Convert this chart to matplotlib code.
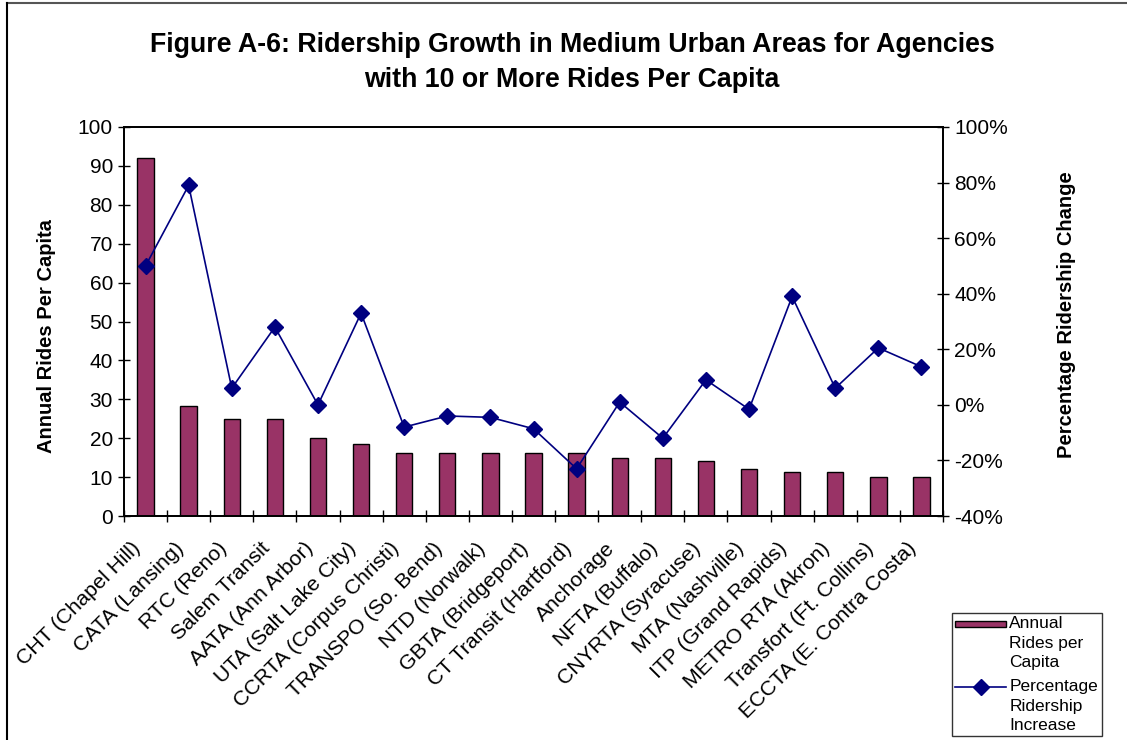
import numpy as np
import matplotlib
matplotlib.use('agg')
import matplotlib.pyplot as plt
from matplotlib.lines import Line2D
from matplotlib.patches import Rectangle
from matplotlib.legend_handler import HandlerBase
from matplotlib.ticker import FuncFormatter
from matplotlib.transforms import ScaledTranslation

plt.rcParams['font.family'] = ['Liberation Sans', 'DejaVu Sans']

agencies = ["CHT (Chapel Hill)", "CATA (Lansing)", "RTC (Reno)", "Salem Transit",
            "AATA (Ann Arbor)", "UTA (Salt Lake City)", "CCRTA (Corpus Christi)",
            "TRANSPO (So. Bend)", "NTD (Norwalk)", "GBTA (Bridgeport)",
            "CT Transit (Hartford)", "Anchorage", "NFTA (Buffalo)", "CNYRTA (Syracuse)",
            "MTA (Nashville)", "ITP (Grand Rapids)", "METRO RTA (Akron)",
            "Transfort (Ft. Collins)", "ECCTA (E. Contra Costa)"]

rides_per_capita = [92.0, 28.2, 24.9, 24.9, 20.0, 18.4, 16.3, 16.3, 16.3, 16.3,
                    16.3, 15.0, 15.0, 14.2, 12.2, 11.3, 11.3, 10.1, 10.1]

pct_change = [50, 79, 6, 28, 0, 33, -8, -4, -4.5, -8.6,
              -23, 1, -12, 9, -1.6, 39, 6, 20.5, 13.7]

bar_color = "#993366"
line_color = "#000080"

HANDLE_TOP = 0.05  # distance of handle below top of handle box, in font sizes


# legend handles sit on the first text line, like Excel does
class TopBar(HandlerBase):
    def create_artists(self, legend, orig, xd, yd, w, h, fs, trans):
        hh = 0.35 * fs
        r = Rectangle((-xd, -yd + h - HANDLE_TOP * fs - hh / 2), w, hh, facecolor=bar_color,
                      edgecolor="black", linewidth=1.0, transform=trans)
        return [r]


class TopLine(HandlerBase):
    def create_artists(self, legend, orig, xd, yd, w, h, fs, trans):
        y0 = -yd + h - HANDLE_TOP * fs
        ln = Line2D([-xd, -xd + w], [y0, y0], color=line_color, linewidth=1.2, transform=trans)
        mk = Line2D([-xd + w / 2], [y0], color=line_color, marker="D", markersize=8,
                    linestyle="none", transform=trans)
        return [ln, mk]


fig = plt.figure(figsize=(11.27, 7.4), dpi=100)
ax = fig.add_axes([124/1127, 1-516/740, (943-124)/1127, (516-127)/740])
ax2 = ax.twinx()

x = np.arange(len(agencies))
bars = ax.bar(x, rides_per_capita, width=0.38, color=bar_color,
              edgecolor="black", linewidth=1.0, label="Annual\nRides per\nCapita", zorder=2)
line, = ax2.plot(x, pct_change, color=line_color, linewidth=1.2, marker="D",
                 markersize=8, label="Percentage\nRidership\nIncrease", zorder=3)

ax.set_xlim(-0.5, len(agencies) - 0.5)
ax.set_ylim(0, 100)
ax.set_yticks(np.arange(0, 101, 10))
ax2.set_ylim(-40, 100)
ax2.set_yticks(np.arange(-40, 101, 20))
ax2.yaxis.set_major_formatter(FuncFormatter(lambda v, p: "%d%%" % v))

# category labels at centres, tick marks at boundaries
ax.set_xticks(x)
ax.set_xticklabels(agencies, rotation=45, ha="right", va="center",
                   rotation_mode="anchor", fontsize=15.3)
ax.tick_params(axis="x", which="major", length=0, pad=14)
ax.set_xticks(np.arange(-0.5, len(agencies), 1.0), minor=True)
ax.tick_params(axis="x", which="minor", direction="inout", length=8, width=1)
shift = ScaledTranslation(-8/100, -10/100, fig.dpi_scale_trans)
for lbl in ax.get_xticklabels():
    lbl.set_transform(lbl.get_transform() + shift)

ax.tick_params(axis="y", direction="inout", length=8, width=1, labelsize=15, pad=4)
ax2.tick_params(axis="y", direction="inout", length=8, width=1, labelsize=15, pad=4)

for a in (ax, ax2):
    for s in a.spines.values():
        s.set_linewidth(1.3)
        s.set_color("black")

ax.set_ylabel("Annual Rides Per Capita", fontsize=14.5, fontweight="bold")
ax.yaxis.set_label_coords(-0.083, 0.463)
ax2.set_ylabel("Percentage Ridership Change", fontsize=14.5, fontweight="bold")
ax2.yaxis.set_label_coords(1.139, 0.517)

fig.text(572/1127, 1-45/740, "Figure A-6: Ridership Growth in Medium Urban Areas for Agencies",
         ha="center", va="center", fontsize=19.3, fontweight="bold")
fig.text(572/1127, 1-80/740, "with 10 or More Rides Per Capita",
         ha="center", va="center", fontsize=19.3, fontweight="bold")

leg = fig.legend(handles=[bars, line], loc="upper left",
                 bbox_to_anchor=(952/1127, 1-613/740), bbox_transform=fig.transFigure,
                 borderaxespad=0, fontsize=12.5, frameon=True, fancybox=False,
                 edgecolor="black", handlelength=2.9, handleheight=3.3,
                 handletextpad=0.2, borderpad=0.2, labelspacing=0.55,
                 handler_map={bars: TopBar(), line: TopLine()})
leg.get_frame().set_linewidth(1.0)
for t in leg.get_texts():
    t.set_linespacing(1.35)
    t.set_multialignment("left")

# outer frame of the chart area
fig.add_artist(Line2D([7/1127, 1], [1-2.5/740, 1-2.5/740], color="#555555", linewidth=1.5,
                      transform=fig.transFigure))
fig.add_artist(Line2D([7/1127, 7/1127], [0, 1-2.5/740], color="black", linewidth=1.5,
                      transform=fig.transFigure))

fig.savefig("out.png", dpi=100)
